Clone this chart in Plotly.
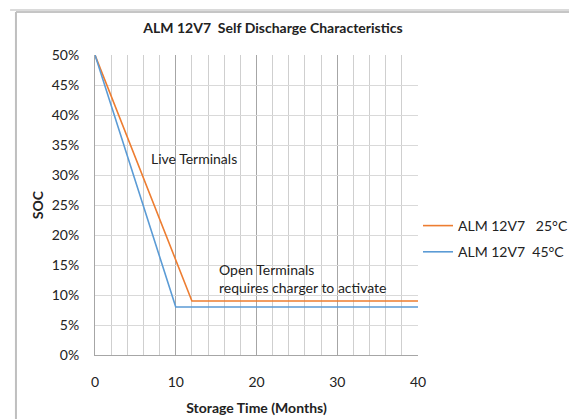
import plotly.graph_objects as go

# ---- data ----
months_25 = [0, 12, 40]
soc_25 = [0.50, 0.09, 0.09]
months_45 = [0, 10, 40]
soc_45 = [0.50, 0.08, 0.08]
series_names = ["ALM 12V7   25°C", "ALM 12V7  45°C"]
x_ticks = [0, 10, 20, 30, 40]
y_ticks = [0, 0.05, 0.10, 0.15, 0.20, 0.25, 0.30, 0.35, 0.40, 0.45, 0.50]
title_text = "ALM 12V7  Self Discharge Characteristics"
x_title = "Storage Time (Months)"
y_title = "SOC"
note_live = "Live Terminals"
note_open = "Open Terminals<br>requires charger to activate"

FONT = "Lato"
W, H = 577, 419
L, R, T, B = 87, 159, 47, 72
pw, ph = W - L - R, H - T - B

def px_x(px):
    return (px - L) / pw

def px_y(py):
    return (H - B - py) / ph

fig = go.Figure()
fig.add_trace(go.Scatter(x=months_25, y=soc_25, mode="lines", name=series_names[0],
                         line=dict(color="#ED7D31", width=1.6), legendgroup="a"))
fig.add_trace(go.Scatter(x=months_45, y=soc_45, mode="lines", name=series_names[1],
                         line=dict(color="#5B9BD5", width=1.6), legendgroup="b"))

fig.update_layout(
    width=W, height=H,
    margin=dict(l=L, r=R, t=T, b=B),
    paper_bgcolor="white", plot_bgcolor="white",
    font=dict(family=FONT, size=14, color="#222222"),
    title=dict(text="<b>" + title_text + "</b>", x=265 / W, xref="paper" if False else "container",
               xanchor="center", y=1 - 20 / H, yanchor="middle",
               font=dict(family=FONT, size=14, color="#222222")),
    legend=dict(x=1.0, xanchor="left", y=px_y(202), yanchor="top",
                bgcolor="rgba(0,0,0,0)", borderwidth=0,
                traceorder="grouped", tracegroupgap=5,
                font=dict(family=FONT, size=14, color="#222222"), itemwidth=30),
    showlegend=True,
)

fig.update_xaxes(
    range=[0, 40], tickvals=x_ticks, ticktext=[str(v) for v in x_ticks],
    showgrid=True, gridcolor="#a6a6a6", gridwidth=1,
    minor=dict(dtick=2, showgrid=True, gridcolor="#cfcfcf", gridwidth=1),
    zeroline=False, showline=True, linecolor="#a6a6a6", linewidth=1, mirror=False,
    ticks="", ticklabelstandoff=14,
    title=dict(text="<b>" + x_title + "</b>", standoff=14, font=dict(family=FONT, size=14)),
)
fig.update_yaxes(
    range=[0, 0.5], tickvals=y_ticks, tickformat=".0%",
    showgrid=True, gridcolor="#d9d9d9", gridwidth=1,
    zeroline=False, showline=True, linecolor="#a6a6a6", linewidth=1,
    ticks="", ticklabelstandoff=12,
    title=dict(text="<b>" + y_title + "</b>", standoff=4, font=dict(family=FONT, size=14)),
)

fig.add_annotation(x=6.7, y=0.328, xref="x", yref="y", text=note_live, showarrow=False,
                   xanchor="left", yanchor="middle", font=dict(family=FONT, size=14, color="#222222"))
fig.add_annotation(x=15.15, y=0.128, xref="x", yref="y", text=note_open, showarrow=False,
                   xanchor="left", yanchor="middle", align="left",
                   font=dict(family=FONT, size=14, color="#222222"))

# chart frame (top and left edges)
fig.add_shape(type="line", xref="paper", yref="paper", x0=px_x(0), x1=px_x(W), y0=px_y(2), y1=px_y(2),
              line=dict(color="#b5b5b5", width=1))
fig.add_shape(type="line", xref="paper", yref="paper", x0=px_x(6), x1=px_x(W), y0=px_y(4), y1=px_y(4),
              line=dict(color="#8c8c8c", width=1))
fig.add_shape(type="line", xref="paper", yref="paper", x0=px_x(6), x1=px_x(6), y0=px_y(4), y1=px_y(H),
              line=dict(color="#bfbfbf", width=2))

fig.write_html("out.html")
